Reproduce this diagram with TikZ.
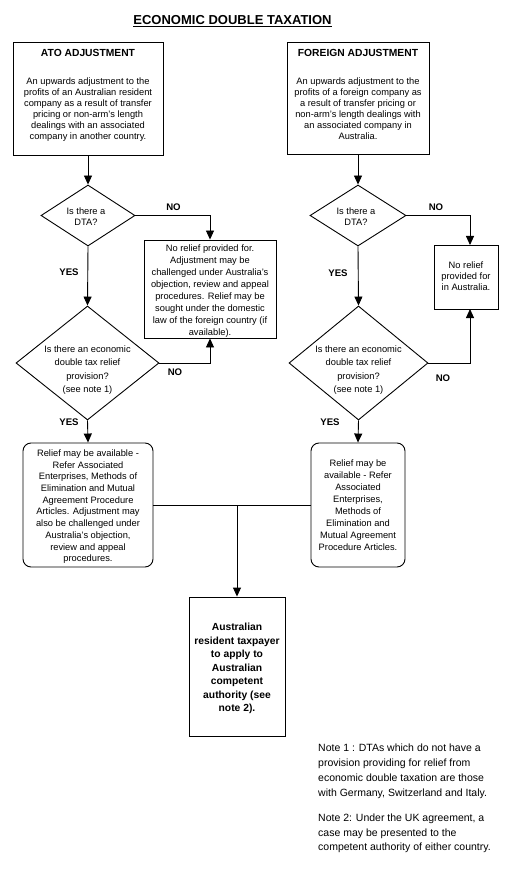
\documentclass[tikz,border=0pt]{standalone}
\usepackage{fontspec}
\setmainfont{Liberation Sans}
\usetikzlibrary{shapes.geometric,arrows.meta}
\begin{document}
\begin{tikzpicture}[x=1pt,y=-1pt,
  box/.style={draw, line width=0.9pt, inner sep=0pt},
  rbox/.style={draw, line width=0.9pt, inner sep=0pt, rounded corners=8pt},
  dia/.style={draw, diamond, line width=0.9pt, inner sep=0pt},
  txt/.style={inner sep=0pt, align=center, anchor=north, font=\fontsize{9.3}{#1}\selectfont},
  txt/.default=11,
  ttl/.style={inner sep=0pt, align=center, anchor=north, font=\fontsize{10.3}{13.5}\selectfont\bfseries},
  lab/.style={inner sep=0pt, font=\fontsize{9.6}{11}\selectfont\bfseries},
  note/.style={inner sep=0pt, align=left, anchor=north west, font=\fontsize{10.5}{#1}\selectfont},
  line/.style={line width=0.9pt},
  arr/.style={line width=0.9pt, -{Triangle[length=9pt,width=8pt]}}
]
\useasboundingbox (0,0) rectangle (516,882);

% title
\node[inner sep=0pt, font=\fontsize{13}{15}\selectfont\bfseries] (title) at (232.5,21) {\underline{ECONOMIC DOUBLE TAXATION}};

% top boxes
\node[box, minimum width=150pt, minimum height=113pt] (ato) at (88,98.5) {};
\node[ttl] (atoT) at (88,49.3) {ATO ADJUSTMENT};
\node[txt] (atoB) at (88,77.7) {An upwards adjustment to the\\profits of an Australian resident\\company as a result of transfer\\pricing or non-arm's length\\dealings with an associated\\company in another country.};

\node[box, minimum width=142pt, minimum height=112pt] (for) at (358,98) {};
\node[ttl] (forT) at (358,49.3) {FOREIGN ADJUSTMENT};
\node[txt] (forB) at (358,77.7) {An upwards adjustment to the\\profits of a foreign company as\\a result of transfer pricing or\\non-arm's length dealings with\\an associated company in\\Australia.};

% first diamonds
\node[dia, minimum width=94pt, minimum height=61pt] (d1L) at (88,215.5) {};
\node[txt=10.5] (d1Lt) at (86,207.7) {Is there a\\DTA?};
\node[dia, minimum width=96pt, minimum height=61pt] (d1R) at (358,215.5) {};
\node[txt=10.5] (d1Rt) at (356,207.7) {Is there a\\DTA?};

% second diamonds
\node[dia, minimum width=143pt, minimum height=114pt] (d2L) at (87.5,363) {};
\node[txt=13.2] (d2Lt) at (87.5,345.7) {Is there an economic\\double tax relief\\provision?\\(see note 1)};
\node[dia, minimum width=139pt, minimum height=114pt] (d2R) at (358.5,363) {};
\node[txt=13.2] (d2Rt) at (358.5,345.7) {Is there an economic\\double tax relief\\provision?\\(see note 1)};

% no relief boxes
\node[box, minimum width=132pt, minimum height=98pt] (nrL) at (210,289) {};
\node[txt=12] (nrLt) at (210,244.7) {No relief provided for.\\Adjustment may be\\challenged under Australia's\\objection, review and appeal\\procedures. Relief may be\\sought under the domestic\\law of the foreign country (if\\available).};
\node[box, minimum width=64pt, minimum height=64pt] (nrR) at (466,277) {};
\node[txt=11] (nrRt) at (466,261.7) {No relief\\provided for\\in Australia.};
\coordinate (nrRn) at (470,245);
\coordinate (nrRs) at (470,309);

% relief boxes
\node[rbox, minimum width=130pt, minimum height=124pt] (relL) at (88,505) {};
\node[txt=11.67] (relLt) at (88,449.7) {Relief may be available -\\Refer Associated\\Enterprises, Methods of\\Elimination and Mutual\\Agreement Procedure\\Articles. Adjustment may\\also be challenged under\\Australia's objection,\\review and appeal\\procedures.};
\node[rbox, minimum width=94pt, minimum height=124pt] (relR) at (358,505) {};
\node[txt=12] (relRt) at (358,459.7) {Relief may be\\available - Refer\\Associated\\Enterprises,\\Methods of\\Elimination and\\Mutual Agreement\\Procedure Articles.};

% final box
\node[box, minimum width=96pt, minimum height=139pt] (fin) at (237,666.5) {};
\node[ttl] (fint) at (237,623.3) {Australian\\resident taxpayer\\to apply to\\Australian\\competent\\authority (see\\note 2).};
\coordinate (j) at (237,505);

% labels
\node[lab] (no1) at (173.5,207) {NO};
\node[lab] (no2) at (175,372) {NO};
\node[lab] (no3) at (436,207) {NO};
\node[lab] (no4) at (443,378) {NO};
\node[lab] (yes1) at (69,272) {YES};
\node[lab] (yes2) at (69,422) {YES};
\node[lab] (yes3) at (338,273) {YES};
\node[lab] (yes4) at (330,422) {YES};

% notes
\node[note=15] (n1) at (318,744) {Note 1 : DTAs which do not have a\\provision providing for relief from\\economic double taxation are those\\with Germany, Switzerland and Italy.};
\node[note=14.5] (n2) at (318,814) {Note 2: Under the UK agreement, a\\case may be presented to the\\competent authority of either country.};

% connectors
\draw[arr] (ato.south) -- (d1L.north);
\draw[arr] (for.south) -- (d1R.north);
\draw[arr] (d1L.east) -| (nrL.north);
\draw[arr] (d1L.south) -- (d2L.north);
\draw[arr] (d2L.east) -| (nrL.south);
\draw[arr] (d2L.south) -- (relL.north);
\draw[arr] (d1R.east) -| (nrRn);
\draw[arr] (d1R.south) -- (d2R.north);
\draw[arr] (d2R.east) -| (nrRs);
\draw[arr] (d2R.south) -- (relR.north);
\draw[line] (relL.east) -- (relR.west);
\draw[arr] (j) -- (fin.north);
\end{tikzpicture}
\end{document}
